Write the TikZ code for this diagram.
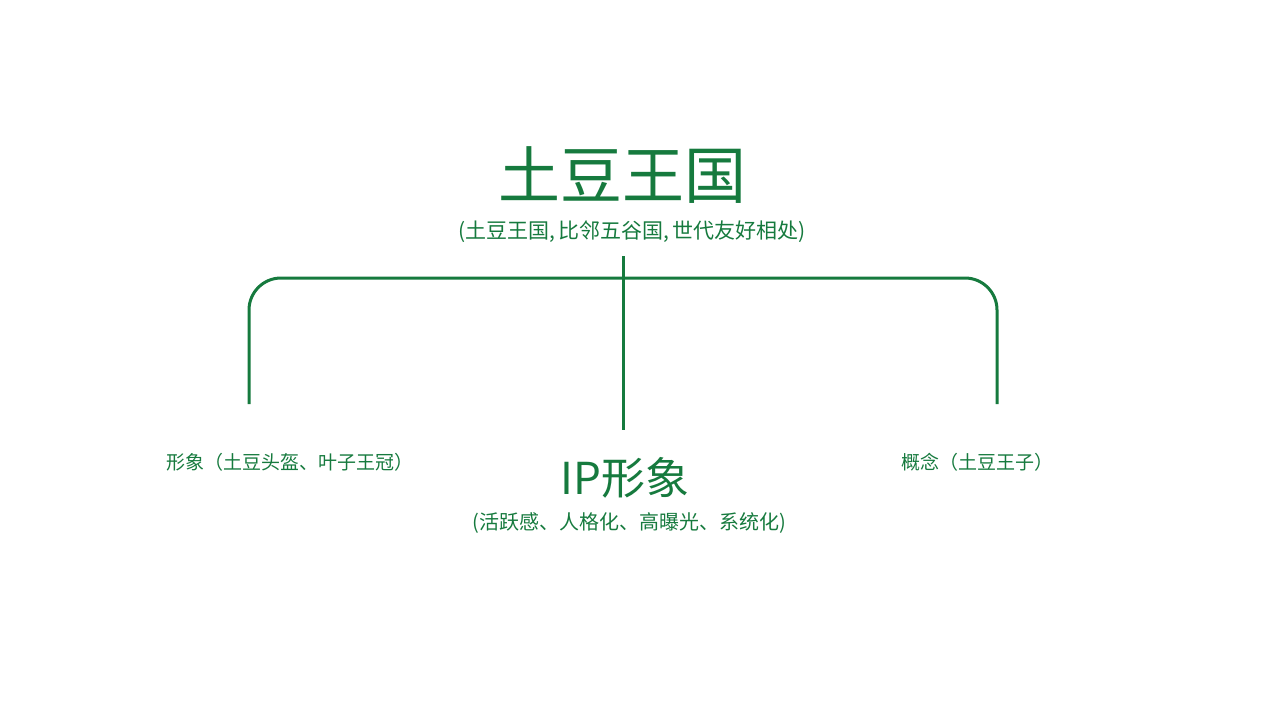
\documentclass[tikz,border=0pt]{standalone}
\usepackage{fontspec}
\setmainfont{Noto Sans CJK SC}
\definecolor{gr}{HTML}{167A3E}
\begin{document}
\begin{tikzpicture}[x=1pt,y=-1pt,
  txt/.style={text=gr,inner sep=0pt,anchor=center},
  ln/.style={draw=gr,line width=3pt}]
\useasboundingbox (0,0) rectangle (1280,720);
\node[txt,font=\fontsize{62}{64}\selectfont] (t) at (622,175) {土豆王国};
\node[txt,font=\fontsize{21}{24}\selectfont] (ts) at (632,232) {(土豆王国,\,比邻五谷国,\,世代友好相处)};
\node[txt,font=\fontsize{44}{48}\selectfont] (ip) at (625,478) {IP形象};
\node[txt,font=\fontsize{20}{24}\selectfont] (ips) at (629,523) {(活跃感、人格化、高曝光、系统化)};
\node[txt,font=\fontsize{19}{24}\selectfont] (l) at (290,462) {形象（土豆头盔、叶子王冠）};
\node[txt,font=\fontsize{19}{24}\selectfont] (r) at (977,462) {概念（土豆王子）};
\coordinate (lb) at (249,404);
\coordinate (rb) at (997,404);
\coordinate (ct) at (623,256);
\coordinate (cb) at (623,430);
\draw[ln,rounded corners=32pt] (lb) -- (249,278) -- (997,278) -- (rb);
\draw[ln] (ct) -- (cb);
\end{tikzpicture}
\end{document}
